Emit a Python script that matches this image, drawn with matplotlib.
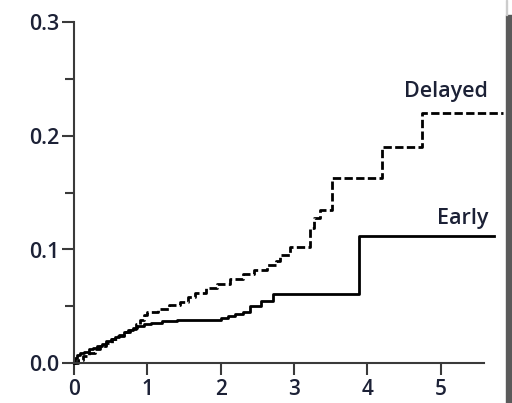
import matplotlib
matplotlib.use("Agg")
import matplotlib.pyplot as plt
import matplotlib.patches as mpatches
from matplotlib.ticker import MultipleLocator

# Data (years vs cumulative incidence)
early_x = [0.0, 0.02, 0.04, 0.08, 0.14, 0.2, 0.26, 0.32, 0.38, 0.44, 0.5, 0.56, 0.62, 0.68, 0.74, 0.8, 0.86,
           0.95, 1.05, 1.2, 1.4, 1.7, 2.0, 2.1, 2.2, 2.3, 2.4, 2.55, 2.72, 3.89, 5.73]
early_y = [0.0, 0.004, 0.007, 0.009, 0.010, 0.012, 0.013, 0.015, 0.017, 0.019, 0.021, 0.023, 0.025, 0.027, 0.029,
           0.031, 0.033, 0.034, 0.035, 0.037, 0.038, 0.038, 0.040, 0.041, 0.043, 0.045, 0.050, 0.055, 0.061, 0.112,
           0.112]

delayed_x = [0.0, 0.05, 0.12, 0.2, 0.28, 0.36, 0.44, 0.52, 0.6, 0.68, 0.76, 0.84, 0.9, 0.95, 1.0, 1.15, 1.3,
             1.45, 1.55, 1.65, 1.8, 1.95, 2.13, 2.3, 2.45, 2.63, 2.75, 2.81, 2.95,
             3.22, 3.28, 3.36, 3.52, 4.2, 4.75, 5.85]
delayed_y = [0.0, 0.003, 0.006, 0.009, 0.012, 0.015, 0.018, 0.021, 0.024, 0.027, 0.030, 0.034, 0.038, 0.042,
             0.045, 0.048, 0.051, 0.054, 0.058, 0.062, 0.066, 0.070, 0.074, 0.078, 0.082, 0.086, 0.090, 0.095,
             0.102, 0.119, 0.128, 0.135, 0.163, 0.190, 0.220, 0.220]

x_ticks = [0, 1, 2, 3, 4, 5]
y_ticks = [0.0, 0.1, 0.2, 0.3]
y_ticklabels = ["0.0", "0.1", "0.2", "0.3"]
series_labels = ["Delayed", "Early"]

FONT = "Open Sans"
TXT = "#1c2136"

fig = plt.figure(figsize=(5.12, 4.03), dpi=100)
W, H = 512, 403
x0px, ppu = 74, 73.3
y0px, ppy = 363, 1135
xmax, ymax = 5.9, 0.3
ax = fig.add_axes([x0px / W, (H - y0px) / H, xmax * ppu / W, ymax * ppy / H])

ax.step(early_x, early_y, where="post", color="black", lw=2.0, clip_on=False)
ax.step(delayed_x, delayed_y, where="post", color="black", lw=2.0, linestyle=(0, (3.0, 1.2)), clip_on=False)

ax.set_xlim(0, xmax)
ax.set_ylim(0, ymax)
for s in ["top", "right"]:
    ax.spines[s].set_visible(False)
ax.spines["left"].set_bounds(0, 0.3)
ax.spines["bottom"].set_bounds(0, 5.6)
for s in ["left", "bottom"]:
    ax.spines[s].set_linewidth(1.5)
    ax.spines[s].set_color("#3a3a3a")

ax.set_xticks(x_ticks)
ax.set_yticks(y_ticks)
ax.set_yticklabels(y_ticklabels)
ax.yaxis.set_minor_locator(MultipleLocator(0.05))
ax.tick_params(axis="both", which="major", direction="out", length=8.5, width=1.5, color="#3a3a3a",
               labelsize=15.5, labelcolor=TXT)
ax.tick_params(axis="y", which="major", pad=2)
ax.tick_params(axis="x", which="major", pad=3, labelsize=15)
ax.tick_params(axis="y", which="minor", direction="out", length=6.5, width=1.5, color="#3a3a3a")
for lab in ax.get_xticklabels() + ax.get_yticklabels():
    lab.set_fontfamily(FONT)
    lab.set_fontweight("semibold")

ax.text(5.65, 0.234, series_labels[0], ha="right", va="baseline", fontsize=15.5, family=FONT,
        weight="semibold", color=TXT)
ax.text(5.65, 0.1225, series_labels[1], ha="right", va="baseline", fontsize=15.5, family=FONT,
        weight="semibold", color=TXT)

# grey page edge on the right
fig.patches.append(mpatches.Rectangle((506 / W, 0), 6 / W, (H - 15) / H, transform=fig.transFigure,
                                      color="#5a5a5a", zorder=0))
fig.patches.append(mpatches.Rectangle((506 / W, (H - 15) / H), 1 / W, 15 / H, transform=fig.transFigure,
                                      color="#cccccc", zorder=0))

fig.savefig("out.png", dpi=100)
